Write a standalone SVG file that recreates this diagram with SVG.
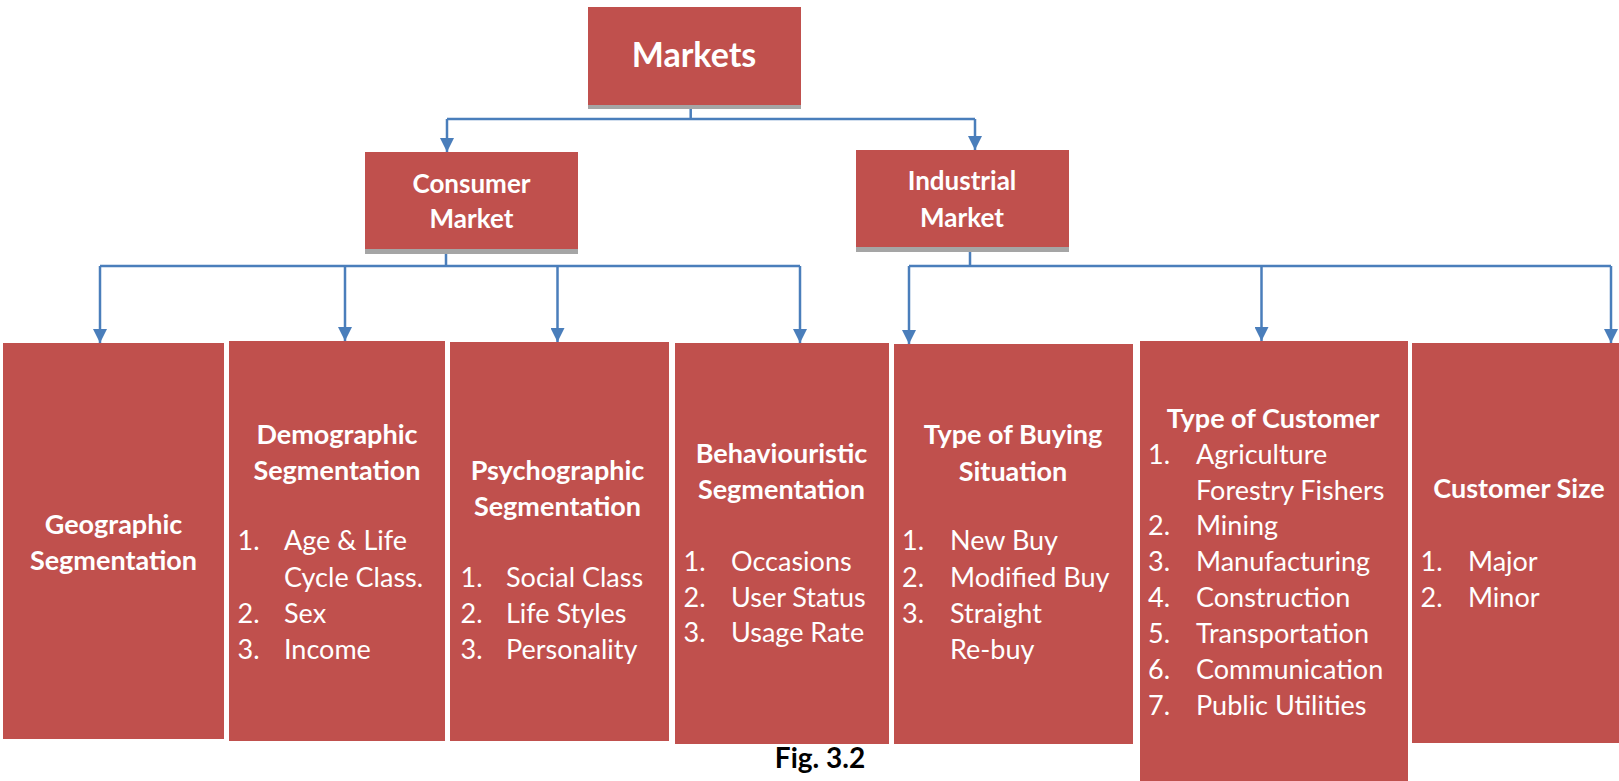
<svg xmlns="http://www.w3.org/2000/svg" width="1619" height="781" viewBox="0 0 1619 781">
<style>
.box{fill:#C0504D}
.sh{fill:#A5A5A5}
.t{font-family:Lato,"Open Sans","Liberation Sans",sans-serif;fill:#fff;font-size:27px}
.b{font-weight:bold}
.c{text-anchor:middle}
.con{fill:none;stroke:#4A7EBB;stroke-width:2.5}
.cap{font-family:Lato,"Liberation Sans",sans-serif;font-weight:bold;font-size:28px;fill:#000;text-anchor:middle}
</style>
<defs>
<marker id="ah" viewBox="0 0 10 10" refX="10" refY="5" markerWidth="15" markerHeight="14" markerUnits="userSpaceOnUse" orient="auto">
<path d="M0,0 L10,5 L0,10 z" fill="#4A7EBB"/>
</marker>
</defs>
<rect width="1619" height="781" fill="#fff"/>
<g id="connectors">
<path class="con" d="M690.7,105 V119 H447 M690.7,119 H975"/>
<path class="con" d="M447,119 V152" marker-end="url(#ah)"/>
<path class="con" d="M975,119 V150" marker-end="url(#ah)"/>
<path class="con" d="M446,249 V266 M100,266 H800"/>
<path class="con" d="M100,266 V343" marker-end="url(#ah)"/>
<path class="con" d="M345,266 V341" marker-end="url(#ah)"/>
<path class="con" d="M557.5,266 V342" marker-end="url(#ah)"/>
<path class="con" d="M800,266 V343" marker-end="url(#ah)"/>
<path class="con" d="M970,247 V266 M909,266 H1611"/>
<path class="con" d="M909,266 V344" marker-end="url(#ah)"/>
<path class="con" d="M1261.5,266 V341" marker-end="url(#ah)"/>
<path class="con" d="M1611,266 V343" marker-end="url(#ah)"/>
</g>
<g id="markets">
<rect class="sh" x="588" y="100" width="213" height="9"/>
<rect class="box" x="588" y="7" width="213" height="98"/>
<text class="t b c" x="694" y="67" style="font-size:34px">Markets</text>
</g>
<g id="consumer">
<rect class="sh" x="365" y="245" width="213" height="9"/>
<rect class="box" x="365" y="152" width="213" height="97"/>
<text class="t b c" x="471.5" y="193" style="font-size:26px">Consumer</text>
<text class="t b c" x="471.5" y="228" style="font-size:26px">Market</text>
</g>
<g id="industrial">
<rect class="sh" x="856" y="243" width="213" height="9"/>
<rect class="box" x="856" y="150" width="213" height="97"/>
<text class="t b c" x="962" y="190" style="font-size:26px">Industrial</text>
<text class="t b c" x="962" y="226.5" style="font-size:26px">Market</text>
</g>
<g id="geographic">
<rect class="box" x="3" y="343" width="221" height="396"/>
<text class="t b c" x="113.5" y="534">Geographic</text>
<text class="t b c" x="113.5" y="570">Segmentation</text>
</g>
<g id="demographic">
<rect class="box" x="229" y="341" width="216" height="400"/>
<text class="t b c" x="337" y="444">Demographic</text>
<text class="t b c" x="337" y="480">Segmentation</text>
<text class="t" x="237.5" y="550">1.</text><text class="t" x="284" y="550">Age &amp; Life</text>
<text class="t" x="284" y="586.5">Cycle Class.</text>
<text class="t" x="237.5" y="622.6">2.</text><text class="t" x="284" y="622.6">Sex</text>
<text class="t" x="237.5" y="658.7">3.</text><text class="t" x="284" y="658.7">Income</text>
</g>
<g id="psychographic">
<rect class="box" x="450" y="342" width="219" height="399"/>
<text class="t b c" x="557.5" y="480">Psychographic</text>
<text class="t b c" x="557.5" y="516">Segmentation</text>
<text class="t" x="460.5" y="586.5">1.</text><text class="t" x="506" y="586.5">Social Class</text>
<text class="t" x="460.5" y="622.6">2.</text><text class="t" x="506" y="622.6">Life Styles</text>
<text class="t" x="460.5" y="658.7">3.</text><text class="t" x="506" y="658.7">Personality</text>
</g>
<g id="behaviouristic">
<rect class="box" x="675" y="343" width="214" height="401"/>
<text class="t b c" x="781.5" y="462.5">Behaviouristic</text>
<text class="t b c" x="781.5" y="498.7">Segmentation</text>
<text class="t" x="683.5" y="571">1.</text><text class="t" x="731" y="571">Occasions</text>
<text class="t" x="683.5" y="606.5">2.</text><text class="t" x="731" y="606.5">User Status</text>
<text class="t" x="683.5" y="642">3.</text><text class="t" x="731" y="642">Usage Rate</text>
</g>
<g id="buying">
<rect class="box" x="894" y="344" width="239" height="400"/>
<text class="t b c" x="1013" y="444">Type of Buying</text>
<text class="t b c" x="1013" y="481">Situation</text>
<text class="t" x="902" y="550">1.</text><text class="t" x="950" y="550">New Buy</text>
<text class="t" x="902" y="586.5">2.</text><text class="t" x="950" y="586.5">Modified Buy</text>
<text class="t" x="902" y="622.6">3.</text><text class="t" x="950" y="622.6">Straight</text>
<text class="t" x="950" y="658.7">Re-buy</text>
</g>
<g id="customer">
<rect class="box" x="1140" y="341" width="268" height="440"/>
<text class="t b c" x="1273" y="428">Type of Customer</text>
<text class="t" x="1148" y="463.5">1.</text><text class="t" x="1196" y="463.5">Agriculture</text>
<text class="t" x="1196" y="499.5">Forestry Fishers</text>
<text class="t" x="1148" y="535">2.</text><text class="t" x="1196" y="535">Mining</text>
<text class="t" x="1148" y="571">3.</text><text class="t" x="1196" y="571">Manufacturing</text>
<text class="t" x="1148" y="607">4.</text><text class="t" x="1196" y="607">Construction</text>
<text class="t" x="1148" y="643">5.</text><text class="t" x="1196" y="643">Transportation</text>
<text class="t" x="1148" y="679">6.</text><text class="t" x="1196" y="679">Communication</text>
<text class="t" x="1148" y="715">7.</text><text class="t" x="1196" y="715">Public Utilities</text>
</g>
<g id="size">
<rect class="box" x="1412" y="343" width="207" height="400"/>
<text class="t b c" x="1519" y="497.5">Customer Size</text>
<text class="t" x="1420.5" y="571">1.</text><text class="t" x="1468" y="571">Major</text>
<text class="t" x="1420.5" y="606.5">2.</text><text class="t" x="1468" y="606.5">Minor</text>
</g>
<text class="cap" x="820" y="768">Fig. 3.2</text>
</svg>
